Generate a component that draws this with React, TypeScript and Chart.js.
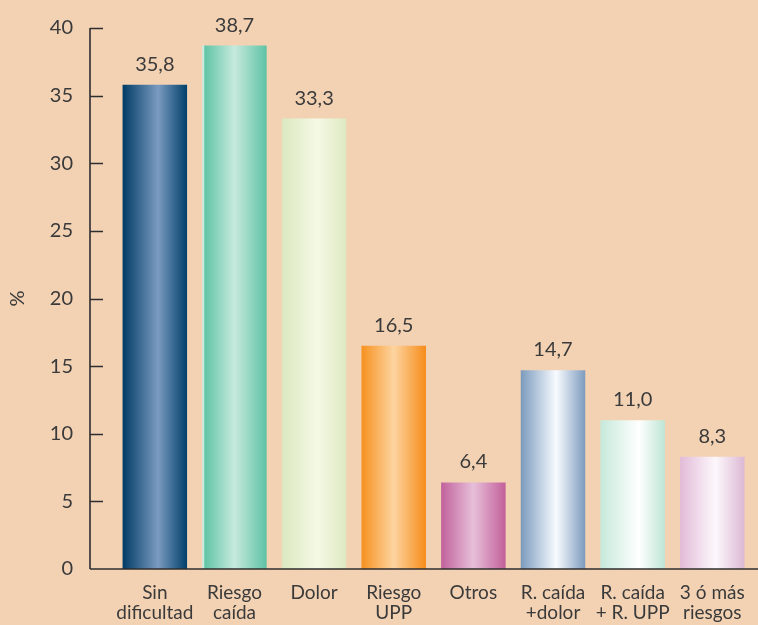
import React, { useEffect, useRef } from "react";
import { Chart, registerables } from "chart.js";

Chart.register(...registerables);

const categories: (string | string[])[] = [
  ["Sin", "dificultad"],
  ["Riesgo", "caída"],
  "Dolor",
  ["Riesgo", "UPP"],
  "Otros",
  ["R. caída", "+dolor"],
  ["R. caída", "+ R. UPP"],
  ["3 ó más", "riesgos"],
];
const values = [35.8, 38.7, 33.3, 16.5, 6.4, 14.7, 11.0, 8.3];
const yMin = 0;
const yMax = 40;
const yStep = 5;
const yTitle = "%";

const barGradients: [number, string][][] = [
  [[0, "#003c66"], [0.55, "#7b9bc0"], [1, "#003f6b"]],
  [[0, "#c6ebdf"], [0.025, "#c6ebdf"], [0.04, "#62c4a6"], [0.5, "#c6e9dd"], [1, "#5ec2a4"]],
  [[0, "#dbe8bf"], [0.55, "#f5f9e6"], [1, "#dee9c1"]],
  [[0, "#f7911f"], [0.5, "#fdd4a0"], [1, "#f68c1a"]],
  [[0, "#c1629b"], [0.5, "#e7bfd9"], [1, "#c25f9a"]],
  [[0, "#7b9bbd"], [0.55, "#f8fbff"], [1, "#7d9bbd"]],
  [[0, "#c6e9db"], [0.6, "#ffffff"], [1, "#bee5d5"]],
  [[0, "#e2bbd8"], [0.55, "#fdf8fc"], [1, "#dcb8d4"]],
];

const FONT = "Lato, 'Open Sans', sans-serif";
const TEXT = "#3a3a3a";
const BG = "#f3d2b4";
const BAR_PCT = 0.81;

export default function App() {
  const ref = useRef<HTMLCanvasElement>(null);
  useEffect(() => {
    if (!ref.current) return;
    const axisPlugin = {
      id: "axes",
      afterDatasetsDraw(chart: any) {
        const { ctx, chartArea } = chart;
        const ys = chart.scales.y;
        const axisX = 90;
        ctx.save();
        ctx.strokeStyle = "#2e2e2e";
        ctx.lineWidth = 1.6;
        ctx.beginPath();
        ctx.moveTo(axisX, ys.getPixelForValue(yMax));
        ctx.lineTo(axisX, chartArea.bottom);
        ctx.moveTo(axisX, chartArea.bottom);
        ctx.lineTo(chart.width, chartArea.bottom);
        for (let v = yMin + yStep; v <= yMax; v += yStep) {
          const y = Math.round(ys.getPixelForValue(v)) + 0.5;
          ctx.moveTo(axisX, y);
          ctx.lineTo(axisX + 13, y);
        }
        ctx.stroke();
        const meta = chart.getDatasetMeta(0);
        ctx.fillStyle = TEXT;
        ctx.font = `20px ${FONT}`;
        ctx.textAlign = "center";
        ctx.textBaseline = "alphabetic";
        meta.data.forEach((el: any, i: number) => {
          const label = values[i].toFixed(1).replace(".", ",");
          ctx.fillText(label, el.x, el.y - 14);
        });
        ctx.restore();
      },
    };
    const chart = new Chart(ref.current, {
      type: "bar",
      data: {
        labels: categories,
        datasets: [
          {
            data: values,
            borderWidth: 0,
            barPercentage: BAR_PCT,
            categoryPercentage: 1,
            backgroundColor: (c: any) => {
              const ch = c.chart;
              const xs = ch.scales?.x;
              const i = c.dataIndex;
              if (!xs || !ch.chartArea || i === undefined) return "#888";
              const cx = xs.getPixelForValue(i);
              const w = (ch.chartArea.width / categories.length) * BAR_PCT;
              const g = ch.ctx.createLinearGradient(cx - w / 2, 0, cx + w / 2, 0);
              barGradients[i].forEach(([s, col]) => g.addColorStop(s, col));
              return g;
            },
          },
        ],
      },
      options: {
        animation: false,
        responsive: false,
        maintainAspectRatio: false,
        layout: { padding: { top: 28, right: 5, left: 0, bottom: 0 } },
        plugins: { legend: { display: false }, tooltip: { enabled: false } },
        scales: {
          x: {
            grid: { display: false, drawTicks: false },
            border: { display: false },
            ticks: {
              color: TEXT,
              font: { family: FONT, size: 19, lineHeight: 1.1 },
              padding: 13,
              maxRotation: 0,
              autoSkip: false,
            },
            afterFit: (s: any) => {
              s.height = 56;
            },
          },
          y: {
            min: yMin,
            max: yMax,
            grid: { display: false, drawTicks: true, tickLength: 42 },
            border: { display: false },
            ticks: {
              stepSize: yStep,
              color: TEXT,
              font: { family: FONT, size: 20 },
              padding: 0,
            },
            title: {
              display: true,
              text: yTitle,
              color: TEXT,
              font: { family: FONT, size: 20, lineHeight: 1.2 },
              padding: { top: 6, bottom: 0 },
            },
            afterFit: (s: any) => {
              s.width = 115;
            },
          },
        },
      },
      plugins: [axisPlugin],
    });
    return () => chart.destroy();
  }, []);
  return (
    <div style={{ position: "fixed", left: 0, top: 0, width: 758, height: 625, background: BG }}>
      <canvas ref={ref} width={758} height={625} style={{ display: "block", width: 758, height: 625 }} />
    </div>
  );
}
